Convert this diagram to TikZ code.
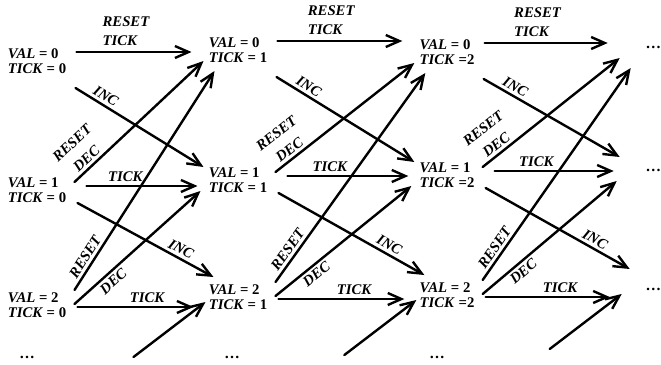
\documentclass[tikz,border=0pt]{standalone}
\usepackage{fontspec}
\setmainfont{Liberation Serif}
\usetikzlibrary{arrows.meta}

\begin{document}
\begin{tikzpicture}[x=0.025cm,y=-0.025cm,line cap=round,line join=round,
  state/.style={font=\fontsize{10.5}{10.6}\selectfont\bfseries,align=left,inner sep=0pt},
  more/.style={font=\fontsize{11}{11}\selectfont\bfseries,inner sep=0pt},
  move/.style={line width=1.7pt,-{Straight Barb[length=3.4mm,width=3mm]}},
  lbl/.style={font=\fontsize{10.5}{13}\selectfont\bfseries\itshape,inner sep=2pt}]
\useasboundingbox (0,0) rectangle (661,364);
% states VAL/TICK, one column per tick
\node[state] (s0-0) at (37,61)  {\textit{VAL} = 0\\\textit{TICK} = 0};
\node[state] (s0-1) at (37,190) {\textit{VAL} = 1\\\textit{TICK} = 0};
\node[state] (s0-2) at (37,305) {\textit{VAL} = 2\\\textit{TICK} = 0};
\node[state] (s1-0) at (238,50)  {\textit{VAL} = 0\\\textit{TICK} = 1};
\node[state] (s1-1) at (238,180) {\textit{VAL} = 1\\\textit{TICK} = 1};
\node[state] (s1-2) at (238,297) {\textit{VAL} = 2\\\textit{TICK} = 1};
\node[state] (s2-0) at (447,52)  {\textit{VAL} = 0\\\textit{TICK} =2};
\node[state] (s2-1) at (447,175) {\textit{VAL} = 1\\\textit{TICK} =2};
\node[state] (s2-2) at (447,295) {\textit{VAL} = 2\\\textit{TICK} =2};
% continuation dots
\node[more,text width=0.9cm,align=right] (s3-0) at (643,47)  {\dots};
\node[more,text width=0.9cm,align=right] (s3-1) at (643,170) {\dots};
\node[more,text width=0.9cm,align=right] (s3-2) at (643,289) {\dots};
\node[more] (d0) at (27,357)  {\dots};
\node[more] (d1) at (232,357) {\dots};
\node[more] (d2) at (437,357) {\dots};
% transitions from column c to column n
\foreach \c/\n in {0/1,1/2,2/3} {
  \path ([shift={(10,-9)}]s\c-0.east) coordinate (h\c-0)
        ([shift={(20,-4)}]s\c-1.east) coordinate (h\c-1)
        ([shift={(11,2)}]s\c-2.east) coordinate (h\c-2);
  \draw[move] (h\c-0) -- node[lbl,above,pos=.43,align=left,inner sep=4pt] {RESET\\TICK} ([shift={(-17,0)}]s\n-0.west |- h\c-0);
  \draw[move] ([shift={(9,27)}]s\c-0.east) -- node[lbl,sloped,above,pos=.2] {INC} ([shift={(-5,-13)}]s\n-1.west);
  \draw[move] ([shift={(8,-8)}]s\c-1.east) -- node[lbl,sloped,above,pos=.14,align=center,
    font=\fontsize{10.5}{15}\selectfont\bfseries\itshape] {RESET\\DEC} ([shift={(-5,11)}]s\n-0.west);
  \draw[move] (h\c-1) -- node[lbl,above,pos=.35] {TICK} ([shift={(-11,0)}]s\n-1.west |- h\c-1);
  \draw[move] ([shift={(11,13)}]s\c-1.east) -- node[lbl,sloped,above,pos=.73] {INC} ([shift={(5,-20)}]s\n-2.west);
  \draw[move] ([shift={(8,-15)}]s\c-2.east) -- node[lbl,sloped,above,pos=.13] {RESET} ([shift={(6,21)}]s\n-0.west);
  \draw[move] ([shift={(8,-1)}]s\c-2.east) -- node[lbl,sloped,below,pos=.26] {DEC} ([shift={(-8,11)}]s\n-1.west);
  \draw[move] (h\c-2) -- node[lbl,above,pos=.6] {TICK} ([shift={(-15,0)}]s\n-2.west |- h\c-2);
  % DEC coming up from VAL = 3
  \coordinate (up\n) at ([shift={(-75,60)}]s\n-2.west);
  \draw[move] (up\n) -- ([shift={(-3,5)}]s\n-2.west);
}
\end{tikzpicture}
\end{document}
